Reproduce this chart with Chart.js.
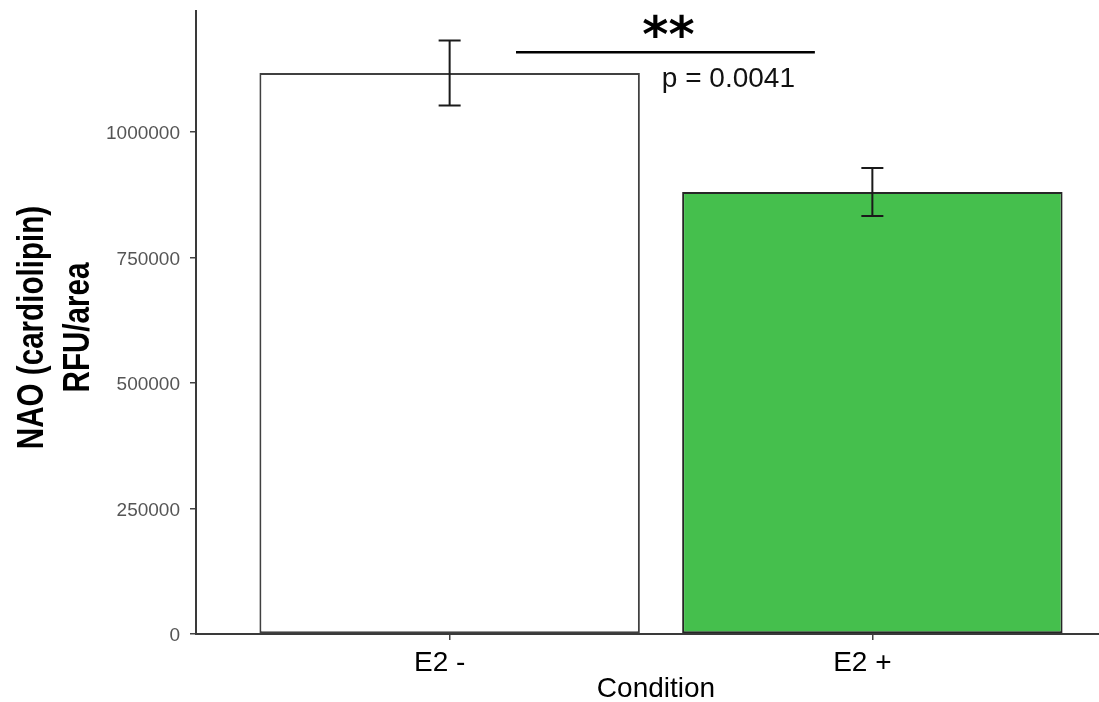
<!DOCTYPE html>
<html>
<head>
<meta charset="utf-8">
<script src="https://cdn.jsdelivr.net/npm/chart.js@4.4.1/dist/chart.umd.min.js"></script>
<style>
  html, body { margin: 0; padding: 0; background: #fff; overflow: hidden; }
  #wrap { position: absolute; left: 0; top: 0; width: 1130px; height: 702px; }
</style>
</head>
<body>
<div id="wrap"><canvas id="chart"></canvas></div>
<script>
// data
const categories = ['E2 -', 'E2 +'];
const means = [1117500, 880500];
const errors = [64700, 47800];
const barFills = ['#ffffff', '#45bf4d'];
const barEdges = ['#404040', '#262626'];
const yTicks = [0, 250000, 500000, 750000, 1000000];
const yMax = 1241000;

// significance bracket (in data units)
const sigFrom = 1.157;
const sigTo = 1.864;
const sigY = 1159000;
const sigStars = '**';
const sigText = 'p = 0.0041';

const yTitle = ['NAO (cardiolipin)', 'RFU/area'];
const xTitle = 'Condition';

const FONT = '"Liberation Sans", Arial, Helvetica, sans-serif';

const extras = {
    id: 'extras',
    afterDatasetsDraw(chart) {
        const ctx = chart.ctx;
        const x = chart.scales.x, y = chart.scales.y;
        ctx.save();

        // error bars
        ctx.strokeStyle = '#1a1a1a';
        ctx.lineWidth = 2;
        means.forEach((m, i) => {
            const px = x.getPixelForValue(i + 1);
            const top = y.getPixelForValue(m + errors[i]);
            const bot = y.getPixelForValue(m - errors[i]);
            const cap = 11;
            ctx.beginPath();
            ctx.moveTo(px, top); ctx.lineTo(px, bot);
            ctx.moveTo(px - cap, top); ctx.lineTo(px + cap, top);
            ctx.moveTo(px - cap, bot); ctx.lineTo(px + cap, bot);
            ctx.stroke();
        });

        // significance bracket
        const x1 = x.getPixelForValue(sigFrom);
        const x2 = x.getPixelForValue(sigTo);
        const ly = y.getPixelForValue(sigY);
        ctx.strokeStyle = '#000';
        ctx.lineWidth = 2.5;
        ctx.beginPath();
        ctx.moveTo(x1, ly); ctx.lineTo(x2, ly);
        ctx.stroke();

        ctx.fillStyle = '#000';
        ctx.textAlign = 'center';
        ctx.textBaseline = 'alphabetic';
        ctx.font = 'bold 50px "DejaVu Sans", sans-serif';
        ctx.fillText(sigStars, (x1 + x2) / 2 + 3, ly);

        ctx.textAlign = 'left';
        ctx.font = '28px ' + FONT;
        ctx.fillStyle = '#111';
        ctx.fillText(sigText, x.getPixelForValue(1.502), ly + 35);
        ctx.restore();
    },
    afterDraw(chart) {
        const ctx = chart.ctx;
        const area = chart.chartArea;
        const midY = (area.top + area.bottom) / 2 + 5;
        ctx.save();
        ctx.fillStyle = '#000';

        // y axis title, two condensed bold lines
        ctx.font = 'bold 37px ' + FONT;
        ctx.textAlign = 'center';
        ctx.textBaseline = 'alphabetic';
        [43, 89].forEach((bx, i) => {
            ctx.save();
            ctx.translate(bx, midY);
            ctx.rotate(-Math.PI / 2);
            ctx.scale(0.8, 1);
            ctx.fillText(yTitle[i], 0, 0);
            ctx.restore();
        });

        // x axis title
        ctx.font = '28px ' + FONT;
        ctx.fillText(xTitle, 656, 697);
        ctx.restore();
    }
};

new Chart(document.getElementById('chart'), {
    type: 'bar',
    data: {
        datasets: [{
            data: means.map((m, i) => ({ x: i + 1, y: m })),
            backgroundColor: barFills,
            borderColor: barEdges,
            borderWidth: 2,
            borderSkipped: false,
            barPercentage: 0.9,
            categoryPercentage: 1.0
        }]
    },
    plugins: [extras],
    options: {
        responsive: true,
        maintainAspectRatio: false,
        animation: false,
        layout: { padding: { top: 11, right: 4, left: 0, bottom: 0 } },
        plugins: {
            legend: { display: false },
            tooltip: { enabled: false }
        },
        scales: {
            x: {
                type: 'linear',
                offset: false,
                min: 0.4,
                max: 2.6,
                afterBuildTicks: s => { s.ticks = categories.map((c, i) => ({ value: i + 1 })); },
                afterFit: s => { s.height = 68; s.paddingLeft = 0; s.paddingRight = 0; },
                grid: { offset: false, drawOnChartArea: false, drawTicks: true, tickLength: 6, color: '#444', lineWidth: 1.5 },
                border: { display: true, color: '#3a3a3a', width: 2 },
                ticks: {
                    autoSkip: false,
                    maxRotation: 0,
                    padding: 6,
                    labelOffset: -10,
                    color: '#000',
                    font: { family: FONT, size: 28 },
                    callback: v => categories[v - 1]
                }
            },
            y: {
                min: 0,
                max: yMax,
                afterBuildTicks: s => { s.ticks = yTicks.map(v => ({ value: v })); },
                afterFit: s => { s.width = 196; s.paddingTop = 0; s.paddingBottom = 0; },
                grid: { drawOnChartArea: false, drawTicks: true, tickLength: 6, color: '#444', lineWidth: 1.5 },
                border: { display: true, color: '#3a3a3a', width: 2 },
                ticks: {
                    padding: 10,
                    labelOffset: 2,
                    color: '#555',
                    font: { family: FONT, size: 19 },
                    callback: v => String(v)
                }
            }
        }
    }
});
</script>
</body>
</html>
